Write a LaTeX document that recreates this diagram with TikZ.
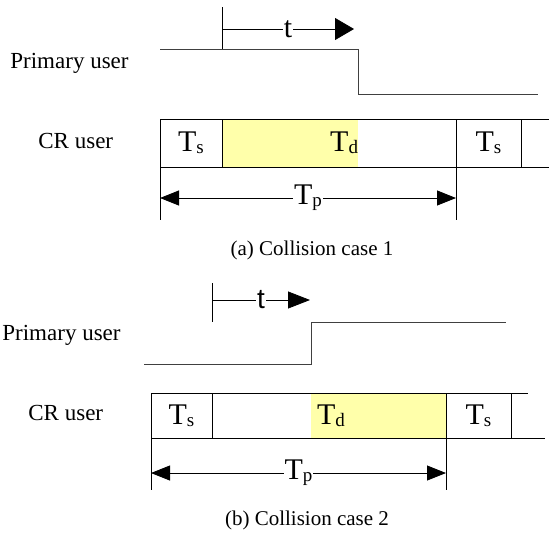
\documentclass[tikz,border=0pt]{standalone}
\usepackage{fontspec}
\setmainfont{Liberation Serif}
\newfontfamily\sansfam{Liberation Sans}
\usetikzlibrary{arrows.meta}
\definecolor{tdyellow}{RGB}{255,255,170}
\newcommand{\Tsub}[1]{T\raisebox{-2pt}{\fontsize{19}{19}\selectfont #1}}
\begin{document}
\begin{tikzpicture}
  [x=1pt,y=-1pt,line width=0.8pt,
   cell/.style={rectangle,draw=black,minimum height=48pt,inner sep=0pt,outer sep=0pt,font=\fontsize{30}{30}\selectfont},
   slot/.style={rectangle,fill=tdyellow,minimum height=48pt,inner sep=0pt,outer sep=0pt,font=\fontsize{30}{30}\selectfont},
   who/.style={anchor=base west,inner sep=0pt,font=\fontsize{23}{27}\selectfont},
   caption/.style={anchor=base,inner sep=0pt,font=\fontsize{21}{25}\selectfont},
   tlabel/.style={fill=white,inner sep=1pt,font=\fontsize{30}{30}\selectfont},
   signal/.style={draw=black!75},
   span/.style={{Triangle[length=19pt,width=15pt]}-{Triangle[length=19pt,width=15pt]}},
   delay/.style={-{Triangle[length=19pt,width=22pt]}}]
\useasboundingbox (0,0) rectangle (549,533); % page size
%
% (a) primary user
\node at (10,68) (pua) [who] {Primary user};
\coordinate (ha0) at (160,49);
\coordinate (ha1) at (358,49);
\coordinate (ha2) at (358,94);
\coordinate (ha3) at (538,94);
\draw [signal] (ha0) -- (ha1) -- (ha2) -- (ha3);
\coordinate (tka) at (222,7);
\coordinate (tkb) at (222,49);
\draw (tka) -- (tkb);
\coordinate (ta) at (222,29);
\coordinate (tb) at (354,29);
\draw [delay] (ta) -- (tb) node[midway,tlabel] (tta) {t};
%
% (a) CR user
\node at (38,148) (cra) [who] {CR user};
\node at (290,143) (da) [slot, minimum width=136pt, text width=136pt, align=right] {\Tsub{d}};
\node at (191,143) (sa1) [cell, minimum width=62pt] {\Tsub{s}};
\node at (488.5,143) (sa2) [cell, minimum width=65pt] {\Tsub{s}};
\coordinate (ea1) at (549,119);
\coordinate (ea2) at (549,167);
\draw (sa1.north east) -- (ea1);
\draw (sa1.south east) -- (ea2);
\coordinate (ga1) at (160,220);
\coordinate (ga2) at (456,220);
\draw (sa1.south west) -- (ga1);
\draw (sa2.south west) -- (ga2);
\coordinate (pa1) at (160,198);
\coordinate (pa2) at (456,198);
\draw [span] (pa1) -- (pa2) node[midway,tlabel] (tpa) {\Tsub{p}};
\node at (312,255) (capa) [caption] {(a) Collision case 1};
%
% (b) primary user
\node at (2,340) (pub) [who] {Primary user};
\coordinate (hb0) at (144,364);
\coordinate (hb1) at (311,364);
\coordinate (hb2) at (311,322);
\coordinate (hb3) at (506,322);
\draw [signal] (hb0) -- (hb1) -- (hb2) -- (hb3);
\coordinate (tkc) at (212,283);
\coordinate (tkd) at (212,322);
\draw (tkc) -- (tkd);
\coordinate (tc) at (212,300);
\coordinate (td) at (310,300);
\draw [-{Triangle[length=22pt,width=17pt]}] (tc) -- (td)
  node[midway,tlabel,font=\fontsize{28}{28}\sansfam] (ttb) {t};
%
% (b) CR user
\node at (28,420) (crb) [who] {CR user};
\node at (378.5,415.5) (db) [slot, minimum width=135pt, minimum height=45pt,
  text width=123pt, inner xsep=6pt, align=left] {\Tsub{d}};
\node at (181.5,415.5) (sb1) [cell, minimum width=61pt, minimum height=45pt] {\Tsub{s}};
\node at (478.5,415.5) (sb2) [cell, minimum width=65pt, minimum height=45pt] {\Tsub{s}};
\coordinate (eb1) at (528,393);
\coordinate (eb2) at (545,438);
\draw (sb1.north east) -- (eb1);
\draw (sb1.south east) -- (eb2);
\coordinate (gb1) at (151,490);
\coordinate (gb2) at (446,490);
\draw (sb1.south west) -- (gb1);
\draw (sb2.south west) -- (gb2);
\coordinate (pb1) at (151,473);
\coordinate (pb2) at (446,473);
\draw [span] (pb1) -- (pb2) node[midway,tlabel] (tpb) {\Tsub{p}};
\node at (307,525) (capb) [caption] {(b) Collision case 2};
\end{tikzpicture}
\end{document}
